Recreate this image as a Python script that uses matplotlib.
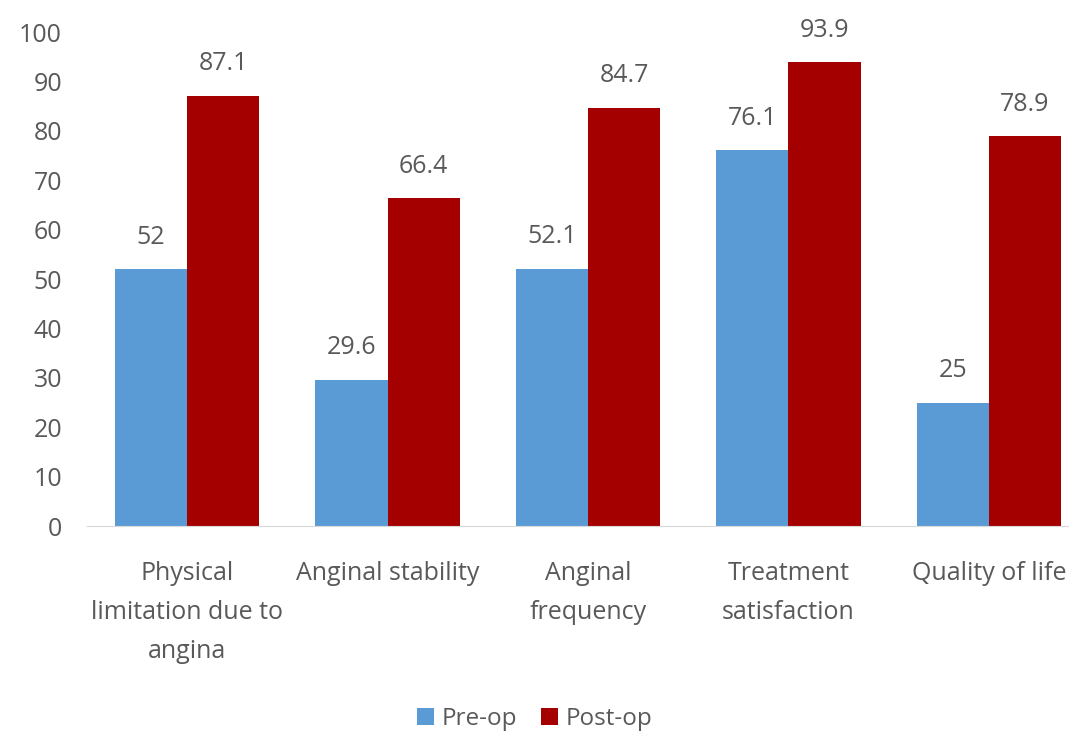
import numpy as np
import matplotlib.pyplot as plt

categories = ["Physical\nlimitation due to\nangina", "Anginal stability",
              "Anginal\nfrequency", "Treatment\nsatisfaction", "Quality of life"]
pre_op = [52, 29.6, 52.1, 76.1, 25]
post_op = [87.1, 66.4, 84.7, 93.9, 78.9]
yticks = list(range(0, 101, 10))

plt.rcParams['font.family'] = ['Open Sans', 'DejaVu Sans']
grey = "#595959"

fig = plt.figure(figsize=(10.69, 7.36), dpi=100)
ax = fig.add_axes([0.0814, 0.2853, 1.0187 - 0.0814, 0.6712])

x = np.arange(len(categories))
w = 0.36
b1 = ax.bar(x - w / 2, pre_op, w, color="#5b9bd5", label="Pre-op")
b2 = ax.bar(x + w / 2, post_op, w, color="#a50000", label="Post-op")

for bars, vals in ((b1, pre_op), (b2, post_op)):
    for rect, v in zip(bars, vals):
        ax.annotate(f"{v:g}", (rect.get_x() + rect.get_width() / 2, v),
                    xytext=(0, 14), textcoords="offset points",
                    ha="center", va="bottom", fontsize=18, color=grey)

ax.set_xlim(-0.5, len(categories) - 0.5)
ax.set_ylim(0, 100)
ax.set_yticks(yticks)
ax.set_xticks(x)
ax.set_xticklabels(categories, linespacing=1.75)
ax.tick_params(axis="both", length=0, labelsize=18, colors=grey)
ax.tick_params(axis="x", pad=25)
ax.tick_params(axis="y", pad=18)
for s in ("top", "right", "left"):
    ax.spines[s].set_visible(False)
ax.spines["bottom"].set_color("#d9d9d9")

fig.legend(loc="center", bbox_to_anchor=(0.5, 0.023), ncol=2, frameon=False,
           fontsize=17.5, labelcolor=grey, handlelength=0.7, handleheight=0.7,
           handletextpad=0.3, columnspacing=1.0)

fig.savefig("out.png", dpi=100)
